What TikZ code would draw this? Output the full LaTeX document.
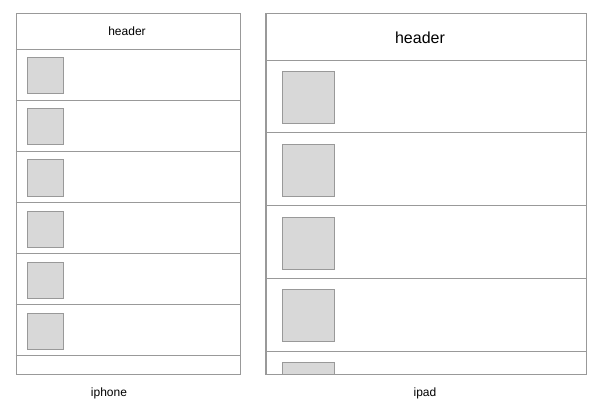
\documentclass[tikz,border=0pt]{standalone}
\usepackage{fontspec}
\setmainfont{Liberation Sans}
\usepackage{tikz}
\usetikzlibrary{positioning,calc}
\usepackage{xcolor}
\definecolor{FrameGray}{HTML}{999999}
\definecolor{ThumbFill}{HTML}{D8D8D8}

\begin{document}
\begin{tikzpicture}[x=1pt, y=-1pt,
    frame/.style={draw=FrameGray, line width=0.8pt},
    divider/.style={draw=FrameGray, line width=0.8pt},
    thumb/.style={draw=FrameGray, fill=ThumbFill, line width=0.8pt, anchor=north west, inner sep=0pt},
    caption/.style={font=\fontsize{12}{14}\selectfont, inner sep=0pt}
  ]
    \useasboundingbox (0,0) rectangle (604,414);

    % iphone
    \node[frame, anchor=north west, minimum width=224pt, minimum height=360pt, inner sep=0pt] (phone) at (15.5,13.5) {};
    \node[caption] (phoneHead) at (127,31) {header};
    \foreach \k in {0,...,6}
      \draw[divider] ($(phone.north west)+(0,36+51*\k)$) -- ($(phone.north east)+(0,36+51*\k)$);
    \foreach \k in {0,...,5}
      \node[thumb, minimum size=36pt] (phoneThumb\k) at (26.5,57.5+51*\k) {};
    \node[caption] (phoneLabel) at (109,393) {iphone};

    % ipad
    \node[frame, anchor=north west, minimum width=320pt, minimum height=360.5pt, inner sep=0pt] (pad) at (265.5,13.5) {};
    \node[caption, font=\fontsize{16}{18}\selectfont] (padHead) at (420,38) {header};
    \foreach \k in {0,...,4}
      \draw[divider] ($(pad.north west)+(0,46.5+72.8*\k)$) -- ($(pad.north east)+(0,46.5+72.8*\k)$);
    \begin{scope}
      \clip (pad.north west) rectangle (pad.south east);
      \foreach \k in {0,...,4}
        \node[thumb, minimum size=52pt] (padThumb\k) at (281.5,71+72.8*\k) {};
    \end{scope}
    \draw[frame] (pad.north west) rectangle (pad.south east);
    \node[caption] (padLabel) at (425,393) {ipad};
\end{tikzpicture}
\end{document}
